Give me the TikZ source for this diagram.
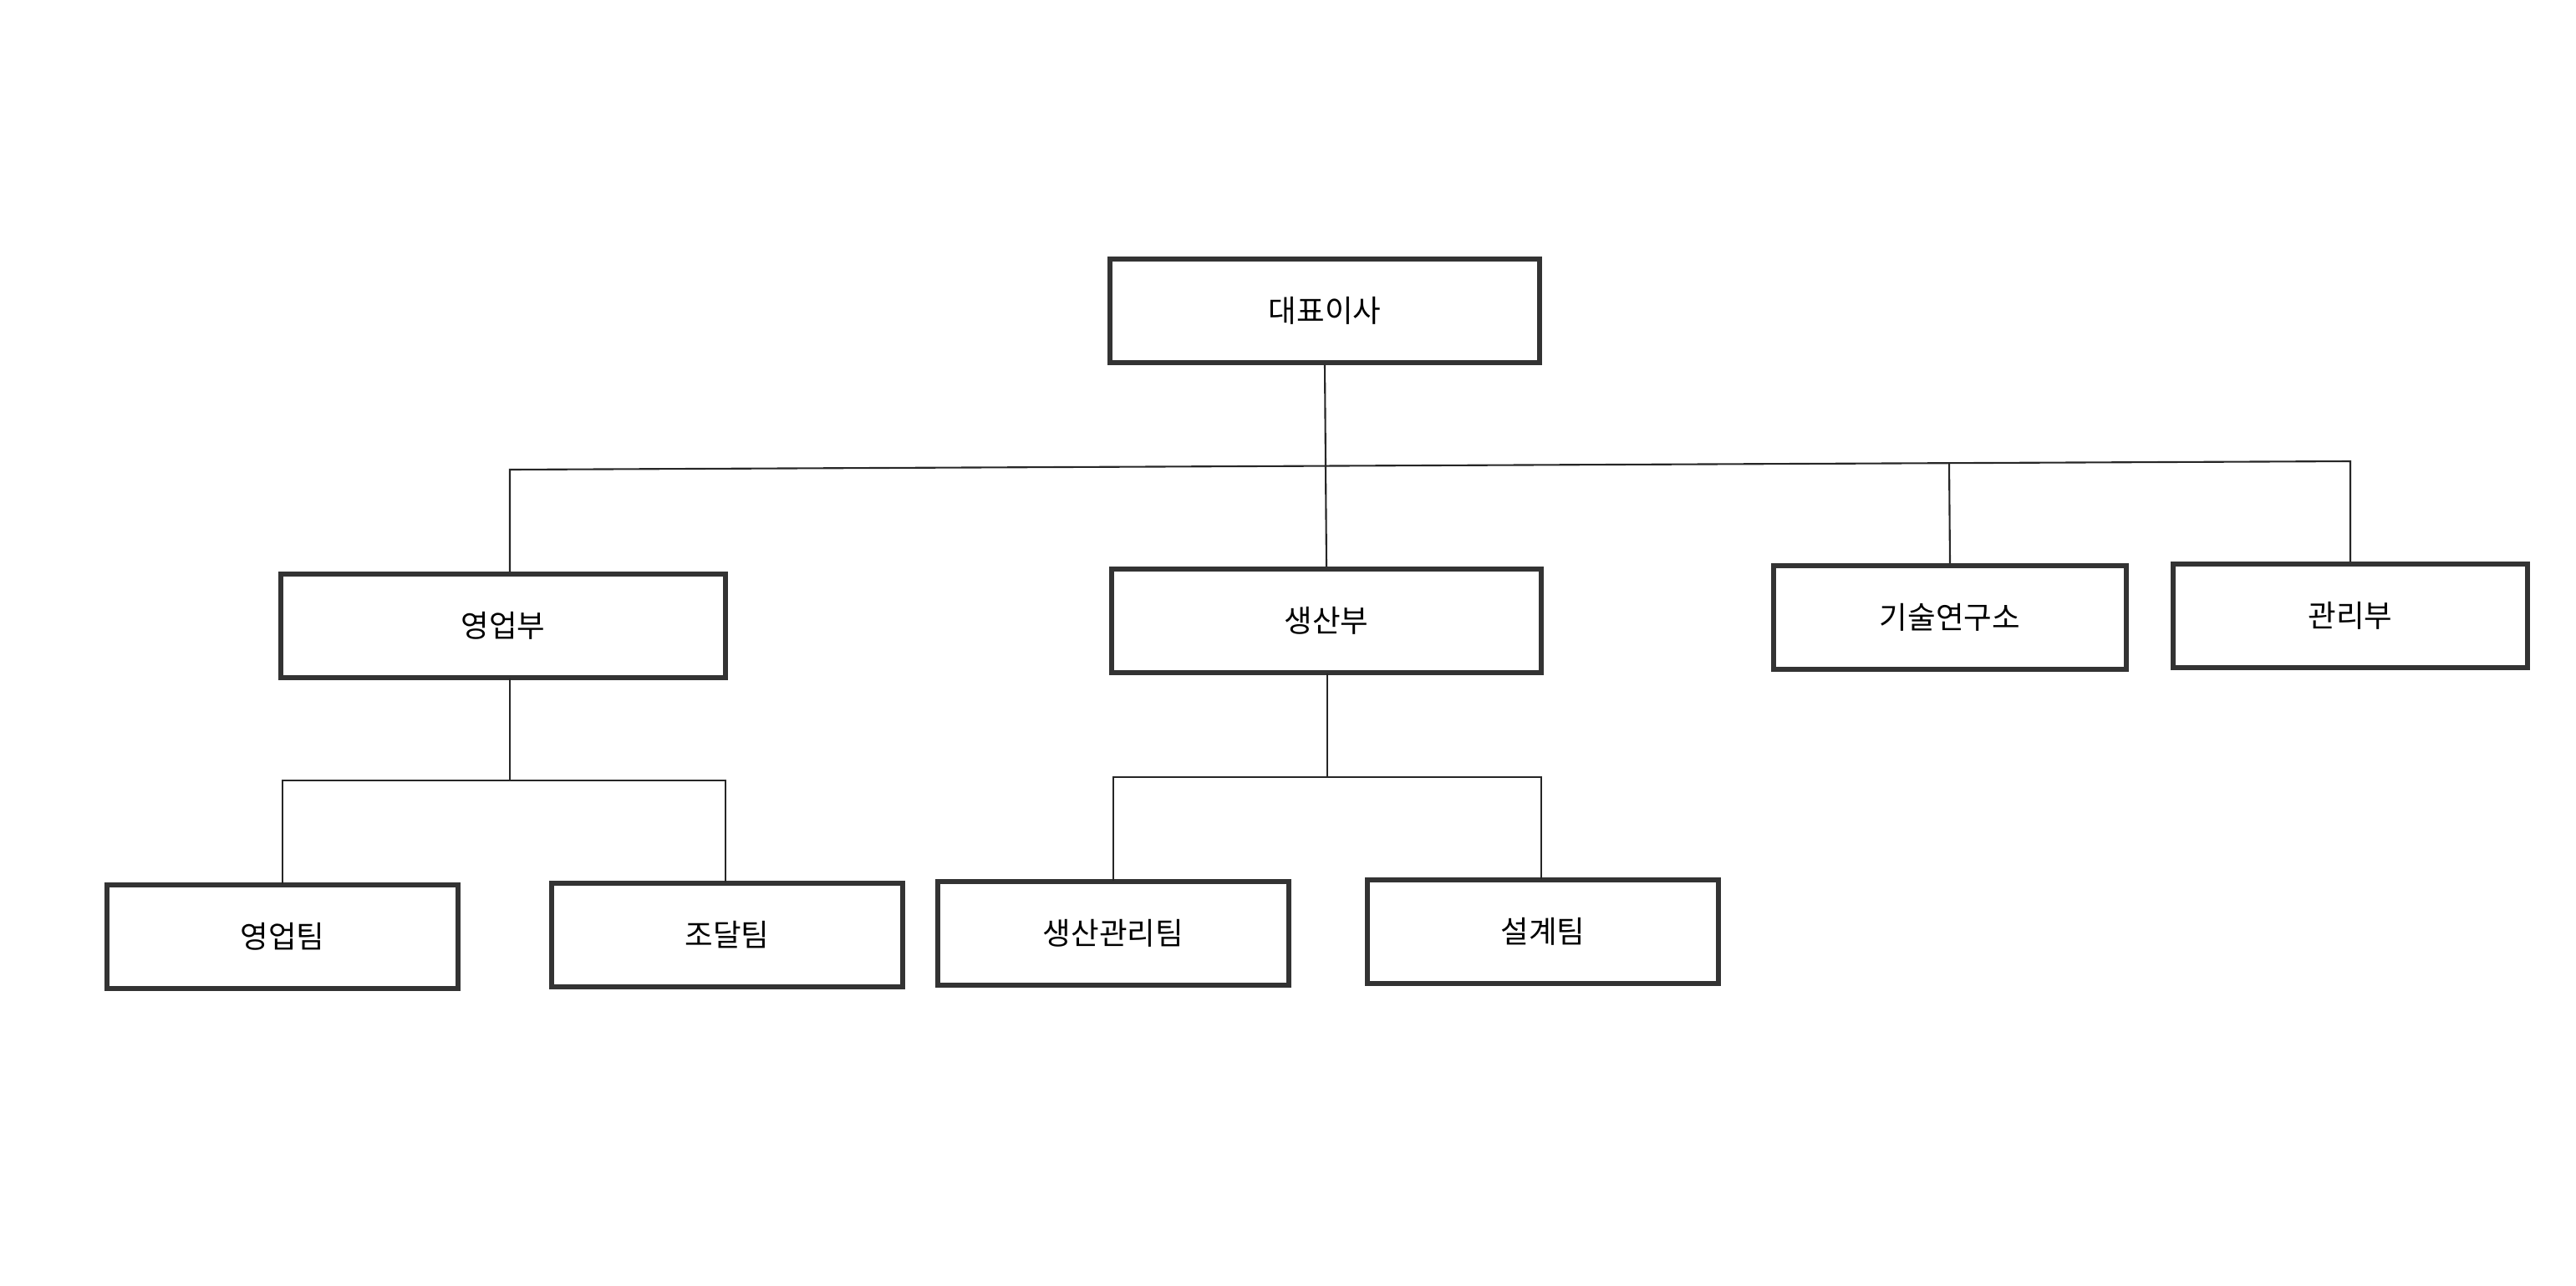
\documentclass[tikz,border=0pt]{standalone}
\usepackage{fontspec}
\setmainfont{Noto Sans CJK KR}
\begin{document}
\begin{tikzpicture}[x=0.5mm,y=-0.5mm,
  box/.style={draw=black!80,line width=4pt,minimum width=#1*0.5mm,minimum height=62*0.5mm,inner sep=0pt,font=\fontsize{26}{30}\selectfont},
  conn/.style={line width=1.5pt,draw=black!85}]
\useasboundingbox (0,0) rectangle (1541,769);
\node[box=257] (ceo) at (792.5,186) {대표이사};
\node[box=266] (sales) at (301,374.5) {영업부};
\node[box=257] (prod) at (793.5,371.5) {생산부};
\node[box=211] (rnd) at (1166.5,369.5) {기술연구소};
\node[box=212] (adm) at (1406,368.5) {관리부};
\node[box=210] (st) at (169,560.5) {영업팀};
\node[box=210] (pc) at (435,559.5) {조달팀};
\node[box=210] (pm) at (666,558.5) {생산관리팀};
\node[box=210] (ds) at (923,557.5) {설계팀};
\coordinate (h) at (0,279);
\draw[conn] (ceo.south) -- (prod.north);
\draw[conn] (sales.north -| 305,0) -- (305,281) -- (1406,276) -- (adm.north);
\draw[conn] (1166,277) -- (rnd.north);
\draw[conn] (305,406) -- (305,467);
\draw[conn] (169,529) -- (169,467) -- (434,467) -- (434,528);
\draw[conn] (794,403) -- (794,465);
\draw[conn] (666,527) -- (666,465) -- (922,465) -- (922,526);
\end{tikzpicture}
\end{document}
